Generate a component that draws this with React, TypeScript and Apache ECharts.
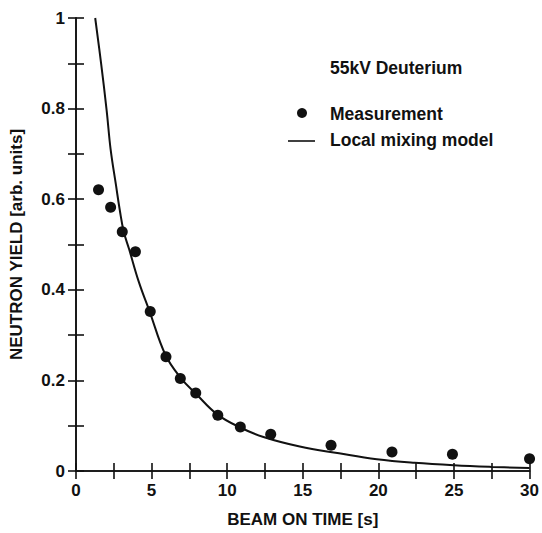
import React, { useEffect, useRef } from "react";
import * as echarts from "echarts";

const measTime = [1.49, 2.29, 3.06, 3.93, 4.91, 5.95, 6.9, 7.92, 9.38, 10.87, 12.88, 16.87, 20.9, 24.9, 30];
const measYield = [0.621, 0.582, 0.528, 0.484, 0.352, 0.252, 0.204, 0.172, 0.123, 0.097, 0.081, 0.057, 0.042, 0.037, 0.027];

const modelTime = [1.27, 1.66, 2.03, 2.29, 2.64, 2.9, 3.16, 3.51, 4.15, 4.87, 5.92, 6.94, 7.92, 9.34, 10.87, 12.4, 14.8, 17.4, 19.9, 22.4, 25, 27.5, 30];
const modelYield = [1.0, 0.9, 0.795, 0.71, 0.632, 0.575, 0.528, 0.49, 0.418, 0.352, 0.256, 0.205, 0.171, 0.125, 0.096, 0.075, 0.054, 0.039, 0.026, 0.018, 0.0125, 0.009, 0.0066];

const xTickLabels = ["0", "5", "10", "15", "20", "25", "30"];
const yTickLabels = ["0", "0.2", "0.4", "0.6", "0.8", "1"];

const titleText = "55kV Deuterium";
const legendNames = ["Measurement", "Local mixing model"];

const FONT = "'Liberation Sans', Arial, Helvetica, sans-serif";

export default function App() {
  const ref = useRef<HTMLDivElement>(null);
  useEffect(() => {
    document.body.style.margin = "0";
    document.body.style.overflow = "hidden";
    if (!ref.current) return;
    const chart = echarts.init(ref.current, undefined, { renderer: "svg" });
    const labelStyle = { color: "#111", fontFamily: FONT, fontSize: 17, fontWeight: "bold" as const };
    const lineStyle = { color: "#111", width: 1.6 };
    const legFont = `bold 17.5px ${FONT}`;
    chart.setOption({
      animation: false,
      backgroundColor: "#fff",
      grid: { left: 74, right: 10, top: 18, bottom: 59, containLabel: false },
      xAxis: [
        {
          type: "value", min: 0, max: 30, interval: 2.5,
          axisLine: { lineStyle }, splitLine: { show: false },
          axisTick: { inside: true, length: 8, lineStyle },
          axisLabel: {
            ...labelStyle, margin: 11,
            formatter: (v: number) => (Math.abs(v % 5) < 1e-6 ? xTickLabels[Math.round(v / 5)] : ""),
          },
          name: "BEAM ON TIME [s]", nameLocation: "middle", nameGap: 40,
          nameTextStyle: { ...labelStyle },
        },
        {
          type: "value", position: "top", min: 0, max: 30, interval: 2.5,
          axisLine: { lineStyle }, splitLine: { show: false },
          axisTick: { inside: true, length: 8, lineStyle }, axisLabel: { show: false },
        },
      ],
      yAxis: [
        {
          type: "value", min: 0, max: 1, interval: 0.1,
          axisLine: { lineStyle }, splitLine: { show: false },
          axisTick: { inside: true, length: 8, lineStyle },
          axisLabel: {
            ...labelStyle, margin: 11,
            formatter: (v: number) => {
              const k = Math.round(v * 10);
              return k % 2 === 0 ? yTickLabels[k / 2] : "";
            },
          },
          name: "NEUTRON YIELD [arb. units]", nameLocation: "middle", nameGap: 51,
          nameTextStyle: { ...labelStyle },
        },
        {
          type: "value", position: "right", min: 0, max: 1, interval: 0.1,
          axisLine: { lineStyle }, splitLine: { show: false },
          axisTick: { inside: true, length: 8, lineStyle }, axisLabel: { show: false },
        },
      ],
      series: [
        {
          name: legendNames[1], type: "line", smooth: 0.4, showSymbol: false,
          data: modelTime.map((t, i) => [t, modelYield[i]]),
          lineStyle: { color: "#111", width: 2 }, z: 2,
        },
        {
          name: legendNames[0], type: "scatter", symbol: "circle", symbolSize: 11,
          data: measTime.map((t, i) => [t, measYield[i]]),
          itemStyle: { color: "#111", opacity: 1 }, z: 3,
        },
      ],
      graphic: [
        { type: "text", left: 330, top: 59, style: { text: titleText, font: legFont, fill: "#111" } },
        { type: "circle", shape: { cx: 302, cy: 113, r: 5 }, style: { fill: "#111" } },
        { type: "text", left: 330, top: 105, style: { text: legendNames[0], font: legFont, fill: "#111" } },
        { type: "line", shape: { x1: 288, y1: 141, x2: 315, y2: 141 }, style: { stroke: "#111", lineWidth: 1.6 } },
        { type: "text", left: 330, top: 131, style: { text: legendNames[1], font: legFont, fill: "#111" } },
      ],
    });
    return () => chart.dispose();
  }, []);
  return <div ref={ref} style={{ position: "absolute", left: 0, top: 0, width: 542, height: 533 }} />;
}
